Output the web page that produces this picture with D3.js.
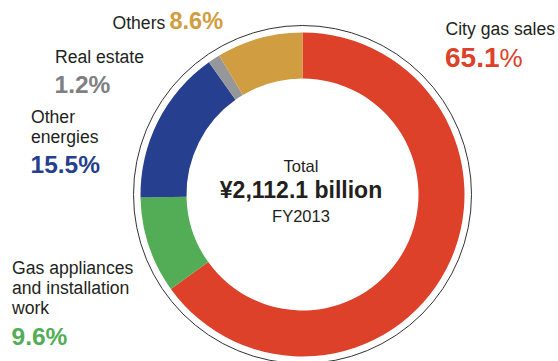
<!DOCTYPE html>
<html>
<head>
<meta charset="utf-8">
<script src="https://cdn.jsdelivr.net/npm/d3@7/dist/d3.min.js"></script>
<style>
  html, body { margin: 0; padding: 0; background: #fff; }
  svg { display: block; }
  text { font-family: "Liberation Sans", Arial, Helvetica, sans-serif; }
</style>
</head>
<body>
<svg id="chart" width="558" height="361"></svg>
<script>
// Net sales breakdown, FY2013 (share of total, %)
const categories = ["City gas sales", "Gas appliances and installation work", "Other energies", "Real estate", "Others"];
const shares = [65.1, 9.6, 15.5, 1.2, 8.6];
const colors = ["#dd4129", "#53ad57", "#263f8e", "#96979b", "#d09d41"];
const labelColors = ["#dd4129", "#53ad57", "#263f8e", "#7f8083", "#d09d41"];

// Label text per category (lines of the name)
const labelLines = [
  ["City gas sales"],
  ["Gas appliances", "and installation", "work"],
  ["Other", "energies"],
  ["Real estate"],
  ["Others"]
];

const totalLines = ["Total", "¥2,112.1 billion", "FY2013"];

const svg = d3.select("#chart");
const cx = 302.5, cy = 194.5;
const rOuter = 162, rInner = 116, rRing = 169;

const g = svg.append("g").attr("transform", `translate(${cx},${cy})`);

// Thin outline circle around the donut
g.append("circle")
  .attr("r", rRing)
  .attr("fill", "none")
  .attr("stroke", "#333")
  .attr("stroke-width", 1);

const pie = d3.pie().sort(null).value(d => d).startAngle(0).endAngle(2 * Math.PI);
const arc = d3.arc().innerRadius(rInner).outerRadius(rOuter);

g.selectAll("path.slice")
  .data(pie(shares))
  .join("path")
  .attr("class", "slice")
  .attr("d", arc)
  .attr("fill", (d, i) => colors[i]);

// Centre text
const center = g.append("g").attr("fill", "#231f20").attr("text-anchor", "middle");
center.append("text").attr("x", -1.5).attr("y", 172 - cy).attr("font-size", 16.5).text(totalLines[0]);
center.append("text").attr("x", -1.5).attr("y", 198 - cy).attr("font-size", 23).attr("font-weight", "bold").text(totalLines[1]);
center.append("text").attr("x", -1.5).attr("y", 222 - cy).attr("font-size", 16.5).text(totalLines[2]);

// Category labels
const dark = "#231f20";
const nameSize = 17.6, valueSize = 24.5;
function pct(v) { return d3.format(".1f")(v); }

// City gas sales
(function () {
  const i = 0;
  svg.append("text").attr("x", 445.5).attr("y", 35).attr("font-size", nameSize).attr("fill", dark).text(labelLines[i][0]);
  const t = svg.append("text").attr("x", 445).attr("y", 66.5).attr("fill", labelColors[i]);
  t.append("tspan").attr("font-size", 28).attr("font-weight", "bold").text(pct(shares[i]));
  t.append("tspan").attr("font-size", 26).text("%");
})();

// Others (single line: name + value)
(function () {
  const i = 4;
  svg.append("text").attr("x", 112.5).attr("y", 29).attr("font-size", nameSize).attr("fill", dark).text(labelLines[i][0]);
  svg.append("text").attr("x", 169.5).attr("y", 29.3).attr("font-size", 23.5).attr("font-weight", "bold")
    .attr("fill", labelColors[i]).text(pct(shares[i]) + "%");
})();

// Real estate
(function () {
  const i = 3;
  svg.append("text").attr("x", 55).attr("y", 63).attr("font-size", nameSize).attr("fill", dark).text(labelLines[i][0]);
  svg.append("text").attr("x", 54.5).attr("y", 92.7).attr("font-size", valueSize).attr("font-weight", "bold")
    .attr("fill", labelColors[i]).text(pct(shares[i]) + "%");
})();

// Other energies
(function () {
  const i = 2;
  labelLines[i].forEach((s, k) => {
    svg.append("text").attr("x", 31).attr("y", 123.3 + k * 19.7).attr("font-size", nameSize).attr("fill", dark).text(s);
  });
  svg.append("text").attr("x", 30.5).attr("y", 172.7).attr("font-size", valueSize).attr("font-weight", "bold")
    .attr("fill", labelColors[i]).text(pct(shares[i]) + "%");
})();

// Gas appliances and installation work
(function () {
  const i = 1;
  labelLines[i].forEach((s, k) => {
    svg.append("text").attr("x", 12).attr("y", 274.3 + k * 20).attr("font-size", nameSize).attr("fill", dark).text(s);
  });
  svg.append("text").attr("x", 11.5).attr("y", 345).attr("font-size", valueSize).attr("font-weight", "bold")
    .attr("fill", labelColors[i]).text(pct(shares[i]) + "%");
})();
</script>
</body>
</html>
